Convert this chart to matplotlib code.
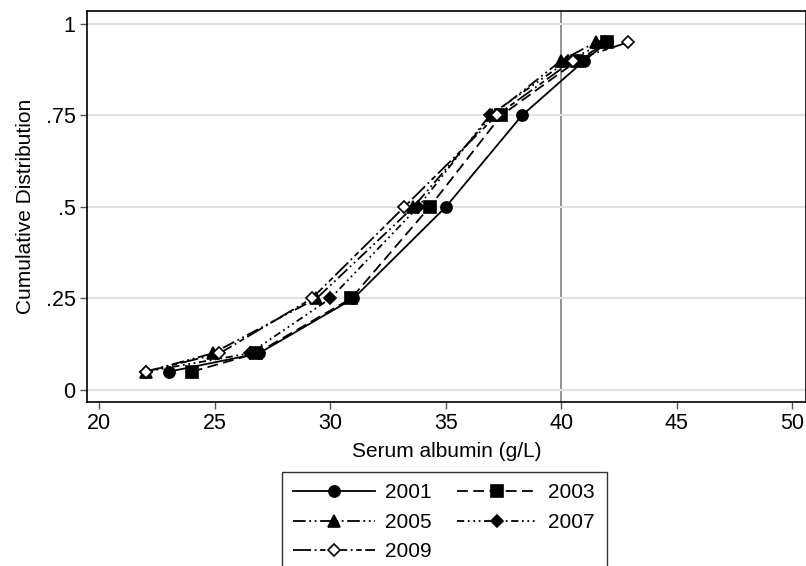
import numpy as np
import matplotlib.pyplot as plt

plt.rcParams['font.family'] = ['Liberation Sans', 'DejaVu Sans']

# cumulative probability levels
cum_levels = [0.05, 0.10, 0.25, 0.50, 0.75, 0.90, 0.95]

# serum albumin (g/L) at each level, per survey year
alb_2001 = [23.0, 26.9, 31.0, 35.0, 38.3, 41.0, 42.0]
alb_2003 = [24.0, 26.8, 30.9, 34.3, 37.4, 40.7, 42.0]
alb_2005 = [22.0, 24.9, 29.4, 33.6, 37.0, 40.0, 41.5]
alb_2007 = [22.0, 26.5, 30.0, 33.8, 36.9, 40.3, 41.9]
alb_2009 = [22.0, 25.2, 29.2, 33.2, 37.2, 40.5, 42.9]

years = ['2001', '2003', '2005', '2007', '2009']
x_ticks = [20, 25, 30, 35, 40, 45, 50]
y_ticks = [0, 0.25, 0.5, 0.75, 1]
y_ticklabels = ['0', '.25', '.5', '.75', '1']

fig = plt.figure(figsize=(8.06, 5.66), dpi=100)
ax = fig.add_axes([0.1076, 0.2903, 0.8924, 0.6907])

styles = [
    dict(linestyle='-', marker='o', mfc='black'),
    dict(linestyle=(0, (6, 3)), marker='s', mfc='black'),
    dict(linestyle=(0, (7, 2, 1, 2, 1, 2)), marker='^', mfc='black'),
    dict(linestyle=(0, (4, 2, 1, 2, 1, 2, 1, 2)), marker='D', mfc='black'),
    dict(linestyle=(0, (10, 2, 1, 2, 3, 2)), marker='D', mfc='white'),
]
series = [alb_2001, alb_2003, alb_2005, alb_2007, alb_2009]

handles = []
for yr, vals, st in zip(years, series, styles):
    ms = 6.5 if st['marker'] == 'D' else 8
    h, = ax.plot(vals, cum_levels, color='black', lw=1.3, ls=st['linestyle'],
                 marker=st['marker'], mfc=st['mfc'], mec='black', ms=ms,
                 mew=1.2, label=yr)
    handles.append(h)

ax.axvline(40, color='#7f7f7f', lw=1.2, zorder=0)

ax.set_xlim(19.45, 50.6)
ax.set_ylim(-0.032, 1.036)
ax.set_xticks(x_ticks)
ax.set_yticks(y_ticks)
ax.set_yticklabels(y_ticklabels)
ax.yaxis.grid(True, color='#e0e0e0', lw=1.5)
ax.set_axisbelow(True)
ax.tick_params(labelsize=15.5, length=5, width=1, color='#555555', pad=3)
for sp in ax.spines.values():
    sp.set_linewidth(1.2)

ax.set_xlabel('Serum albumin (g/L)', fontsize=15, labelpad=6)
ax.set_ylabel('Cumulative Distribution', fontsize=15, labelpad=8)

# row-major order in a 2-column legend
order = [0, 2, 4, 1, 3]
leg = fig.legend([handles[i] for i in order], [years[i] for i in order],
                 loc='upper left', bbox_to_anchor=(282 / 806, 1 - 472 / 566),
                 ncol=2, fontsize=15, frameon=True, fancybox=False,
                 edgecolor='black', handlelength=3.9, handletextpad=0.5,
                 columnspacing=1.2, labelspacing=0.5, borderpad=0.55,
                 borderaxespad=0)
leg.get_frame().set_linewidth(1.0)

fig.savefig('out.png', dpi=100)
